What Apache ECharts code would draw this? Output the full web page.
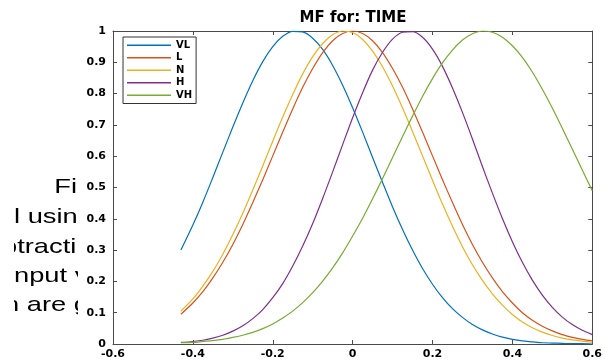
<!DOCTYPE html>
<html>
<head>
<meta charset="utf-8">
<script src="https://cdn.jsdelivr.net/npm/echarts@6/dist/echarts.min.js"></script>
<style>
  html, body { margin: 0; padding: 0; background: #fff; }
  #chart { width: 605px; height: 363px; }
</style>
</head>
<body>
<div id="chart"></div>
<script>
// Sample positions along the TIME universe
const xs = [-0.430, -0.400, -0.375, -0.350, -0.325, -0.300, -0.275, -0.250, -0.225, -0.200,
            -0.175, -0.150, -0.125, -0.100, -0.075, -0.050, -0.025, 0.000, 0.025, 0.050,
            0.075, 0.100, 0.125, 0.150, 0.175, 0.200, 0.225, 0.250, 0.275, 0.300,
            0.325, 0.350, 0.375, 0.400, 0.425, 0.450, 0.475, 0.500, 0.525, 0.550,
            0.575, 0.600];

// Membership degrees of each fuzzy set
const vl = [0.300, 0.380, 0.453, 0.532, 0.613, 0.693, 0.770, 0.841, 0.902, 0.950,
            0.983, 0.999, 0.997, 0.977, 0.941, 0.890, 0.827, 0.755, 0.677, 0.596,
            0.516, 0.438, 0.366, 0.300, 0.241, 0.191, 0.148, 0.113, 0.085, 0.062,
            0.045, 0.032, 0.022, 0.015, 0.010, 0.007, 0.004, 0.003, 0.002, 0.001,
            0.001, 0.000];
const l  = [0.095, 0.131, 0.167, 0.211, 0.261, 0.318, 0.382, 0.452, 0.525, 0.601,
            0.677, 0.751, 0.820, 0.880, 0.931, 0.969, 0.992, 1.000, 0.992, 0.969,
            0.931, 0.880, 0.820, 0.751, 0.677, 0.601, 0.525, 0.452, 0.382, 0.318,
            0.261, 0.211, 0.167, 0.131, 0.100, 0.076, 0.057, 0.042, 0.030, 0.021,
            0.015, 0.010];
const n  = [0.105, 0.144, 0.185, 0.232, 0.287, 0.350, 0.418, 0.492, 0.569, 0.648,
            0.725, 0.797, 0.863, 0.918, 0.960, 0.988, 1.000, 0.995, 0.973, 0.936,
            0.886, 0.824, 0.754, 0.679, 0.601, 0.523, 0.447, 0.376, 0.311, 0.253,
            0.203, 0.160, 0.124, 0.094, 0.070, 0.052, 0.038, 0.027, 0.019, 0.013,
            0.009, 0.006];
const h  = [0.005, 0.008, 0.012, 0.019, 0.028, 0.041, 0.058, 0.081, 0.110, 0.148,
            0.193, 0.249, 0.313, 0.385, 0.465, 0.550, 0.637, 0.723, 0.803, 0.875,
            0.932, 0.974, 0.996, 0.998, 0.980, 0.942, 0.887, 0.818, 0.740, 0.655,
            0.567, 0.482, 0.401, 0.327, 0.261, 0.204, 0.156, 0.117, 0.086, 0.062,
            0.044, 0.030];
const vh = [0.004, 0.005, 0.008, 0.011, 0.015, 0.021, 0.028, 0.037, 0.049, 0.064,
            0.083, 0.105, 0.132, 0.164, 0.201, 0.243, 0.291, 0.345, 0.402, 0.464,
            0.529, 0.596, 0.663, 0.728, 0.791, 0.848, 0.898, 0.939, 0.971, 0.991,
            1.000, 0.996, 0.980, 0.953, 0.916, 0.869, 0.814, 0.754, 0.689, 0.623,
            0.556, 0.490];

const setNames = ['VL', 'L', 'N', 'H', 'VH'];
const setValues = [vl, l, n, h, vh];
const setColors = ['#0072BD', '#D95319', '#EDB120', '#7E2F8E', '#77AC30'];

const xTicks = { min: -0.6, max: 0.6, interval: 0.2 };
const yTicks = { min: 0, max: 1, interval: 0.1 };

// Lines of body text partly hidden behind the figure
const bodyLines = [
  { text: 'Fi', x: 77, y: 177, align: 'right' },
  { text: 'l using', x: 14, y: 207, align: 'left' },
  { text: 'btracti', x: 2, y: 237, align: 'left' },
  { text: 'nput v', x: 14, y: 266, align: 'left' },
  { text: 'n are g', x: 4, y: 295, align: 'left' }
];

const axisColor = '#4a4a4a';
const labelFont = { fontFamily: 'DejaVu Sans', fontWeight: 'bold', fontSize: 11, color: '#000' };

const chart = echarts.init(document.getElementById('chart'), null, { renderer: 'canvas' });

const graphics = bodyLines.map(t => ({
  type: 'text',
  x: t.x, y: t.y,
  scaleX: 1.3, scaleY: 1,
  z: -3,
  style: {
    text: t.text, x: 0, y: 0,
    font: '21px "Liberation Sans", Arial, sans-serif',
    fill: '#000',
    textAlign: t.align,
    textVerticalAlign: 'top'
  }
}));
// figure canvas and page margin covering the text
graphics.push({ type: 'rect', z: -2, shape: { x: 78, y: 0, width: 527, height: 363 }, style: { fill: '#fff' } });
graphics.push({ type: 'rect', z: -2, shape: { x: 0, y: 0, width: 14, height: 363 }, style: { fill: '#fff' } });

const frameLine = { show: true, onZero: false, lineStyle: { color: axisColor, width: 1 } };
const innerTick = { show: true, inside: true, length: 4, lineStyle: { color: axisColor } };
const tickText = v => String(Math.round(v * 10) / 10);

chart.setOption({
  backgroundColor: 'transparent',
  animation: false,
  graphic: graphics,
  title: {
    text: 'MF for: TIME',
    left: 353,
    textAlign: 'center',
    top: 11,
    padding: 0,
    textStyle: { fontFamily: 'DejaVu Sans', fontWeight: 'bold', fontSize: 15, color: '#000' }
  },
  grid: { left: 113, right: 12, top: 31, bottom: 19, containLabel: false },
  legend: {
    orient: 'vertical',
    left: 123,
    top: 37,
    padding: [2, 4, 2, 4],
    itemGap: 0,
    itemWidth: 44,
    itemHeight: 1.5,
    icon: 'rect',
    backgroundColor: '#fff',
    borderColor: '#333',
    borderWidth: 1,
    borderRadius: 0,
    data: setNames,
    textStyle: { fontFamily: 'DejaVu Sans', fontWeight: 'bold', fontSize: 10, color: '#000', lineHeight: 12.5 }
  },
  xAxis: [
    {
      type: 'value', ...xTicks, position: 'bottom',
      axisLine: frameLine, axisTick: innerTick,
      axisLabel: { ...labelFont, margin: 5, formatter: tickText },
      splitLine: { show: false }
    },
    {
      type: 'value', ...xTicks, position: 'top',
      axisLine: frameLine, axisTick: innerTick,
      axisLabel: { show: false }, splitLine: { show: false }
    }
  ],
  yAxis: [
    {
      type: 'value', ...yTicks, position: 'left',
      axisLine: frameLine, axisTick: innerTick,
      axisLabel: { ...labelFont, margin: 7, formatter: tickText },
      splitLine: { show: false }
    },
    {
      type: 'value', ...yTicks, position: 'right',
      axisLine: frameLine, axisTick: innerTick,
      axisLabel: { show: false }, splitLine: { show: false }
    }
  ],
  series: setNames.map((name, i) => ({
    name,
    type: 'line',
    xAxisIndex: 0,
    yAxisIndex: 0,
    data: xs.map((x, k) => [x, setValues[i][k]]),
    smooth: 0.3,
    showSymbol: false,
    symbol: 'none',
    color: setColors[i],
    lineStyle: { width: 1.2, color: setColors[i] },
    z: 2
  }))
});
</script>
</body>
</html>
